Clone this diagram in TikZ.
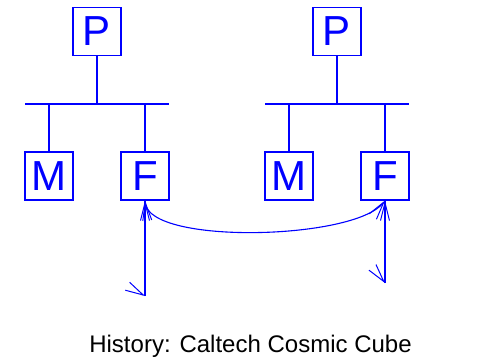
\documentclass[tikz,border=0pt]{standalone}
\usepackage{fontspec}
\setmainfont{Liberation Sans}
\usetikzlibrary{arrows.meta,calc}
\begin{document}
\begin{tikzpicture}[x=1pt,y=-1pt,
  unit/.style={draw=blue,line width=1.1pt,minimum size=48pt,inner sep=0pt,text=blue,font=\fontsize{42}{42}\selectfont},
  wire/.style={draw=blue,line width=1.1pt},
  barb/.style={-{Straight Barb[length=18pt,width=9pt,line width=1pt]}}]
\useasboundingbox (0,0) rectangle (482,360);
% left group
\node[unit] (Pl) at (97,31.5) {P};
\node[unit] (Ml) at (49,176) {M};
\node[unit] (Fl) at (145,176) {F};
\coordinate (bl1) at (25,104);
\coordinate (bl2) at (169,104);
\draw[wire] (bl1) -- (bl2);
\draw[wire] (Pl.south) -- (Pl.south |- bl1);
\draw[wire] (Ml.north) -- (Ml.north |- bl1);
\draw[wire] (Fl.north) -- (Fl.north |- bl1);
% right group
\node[unit] (Pr) at (337,31.5) {P};
\node[unit] (Mr) at (289,176) {M};
\node[unit] (Fr) at (385,176) {F};
\coordinate (br1) at (265,104);
\coordinate (br2) at (409,104);
\draw[wire] (br1) -- (br2);
\draw[wire] (Pr.south) -- (Pr.south |- br1);
\draw[wire] (Mr.north) -- (Mr.north |- br1);
\draw[wire] (Fr.north) -- (Fr.north |- br1);
% external links
\coordinate (el) at (145,296);
\coordinate (er) at (385,283);
\draw[wire,barb] (el) -- (Fl.south);
\draw[wire] (Fl.south) -- (el);
\draw[wire,barb] ($(el)+(-1.8,-1)$) -- (el);
\draw[wire,barb] (er) -- (Fr.south);
\draw[wire] (Fr.south) -- (er);
\draw[wire,barb] ($(er)+(-1.2,-1.5)$) -- (er);
% link between F units
\draw[wire,{Straight Barb[length=18pt,width=9pt,line width=1pt]}-{Straight Barb[length=18pt,width=9pt,line width=1pt]}]
  (Fl.south) .. controls (150,245) and (355,240) .. (Fr.south);
% caption
\node[anchor=base,font=\fontsize{24}{24}\selectfont,inner sep=0pt] (cap) at (250.5,352) {History: Caltech Cosmic Cube};
\end{tikzpicture}
\end{document}
